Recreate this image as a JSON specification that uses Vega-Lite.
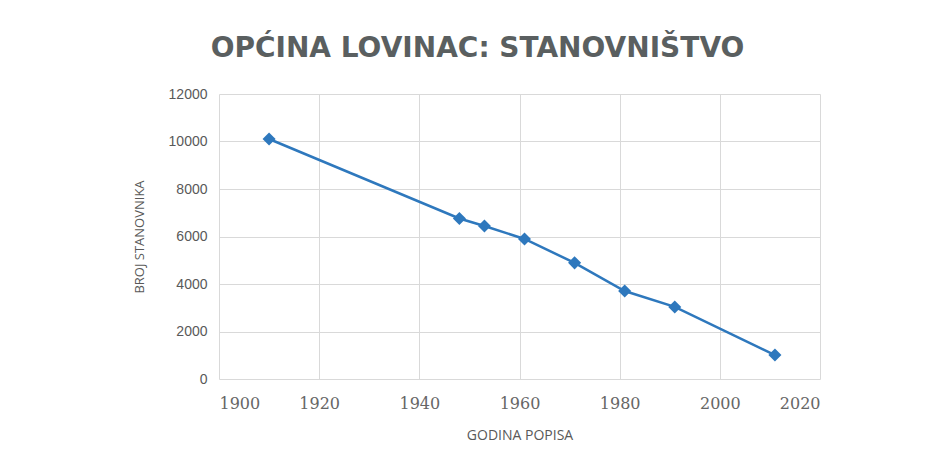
{
  "$schema": "https://vega.github.io/schema/vega-lite/v6.json",
  "width": 601,
  "height": 285,
  "autosize": {"type": "none"},
  "padding": {"left": 219, "top": 94, "right": 123, "bottom": 86},
  "background": "white",
  "title": {
    "text": "OPĆINA LOVINAC: STANOVNIŠTVO",
    "font": "DejaVu Sans",
    "fontSize": 28,
    "fontWeight": "bold",
    "color": "#5a5f60",
    "anchor": "middle",
    "dx": -42,
    "offset": 24
  },
  "data": {
    "values": [
      {"godina": 1910, "stanovnika": 10105},
      {"godina": 1948, "stanovnika": 6760},
      {"godina": 1953, "stanovnika": 6440},
      {"godina": 1961, "stanovnika": 5895},
      {"godina": 1971, "stanovnika": 4890},
      {"godina": 1981, "stanovnika": 3705},
      {"godina": 1991, "stanovnika": 3035},
      {"godina": 2011, "stanovnika": 1010}
    ]
  },
  "config": {
    "view": {"stroke": null},
    "axis": {
      "gridColor": "#d9d9d9",
      "gridWidth": 1,
      "domain": false,
      "ticks": false,
      "labelColor": "#595959",
      "titleColor": "#595959",
      "labelFont": "Liberation Sans",
      "titleFont": "Open Sans",
      "titleFontWeight": "normal"
    }
  },
  "encoding": {
    "x": {
      "field": "godina",
      "type": "quantitative",
      "scale": {"domain": [1900, 2020], "nice": false, "zero": false},
      "axis": {
        "values": [1900, 1920, 1940, 1960, 1980, 2000, 2020],
        "format": "d",
        "title": "GODINA POPISA",
        "labelFontSize": 16,
        "labelPadding": 16,
        "labelFontWeight": "normal",
        "labelColor": "#666666",
        "titleFontSize": 14,
        "titlePadding": 17,
        "labelFont": "DejaVu Serif"
      }
    },
    "y": {
      "field": "stanovnika",
      "type": "quantitative",
      "scale": {"domain": [0, 12000], "nice": false},
      "axis": {
        "values": [0, 2000, 4000, 6000, 8000, 10000, 12000],
        "format": "d",
        "title": "BROJ STANOVNIKA",
        "labelFontSize": 14,
        "labelPadding": 12,
        "titleFontSize": 13,
        "titlePadding": 22
      }
    }
  },
  "layer": [
    {"mark": {"type": "line", "color": "#2E78BD", "strokeWidth": 2.5}},
    {"mark": {"type": "point", "shape": "diamond", "filled": true, "color": "#2E78BD", "size": 170, "opacity": 1}}
  ]
}
